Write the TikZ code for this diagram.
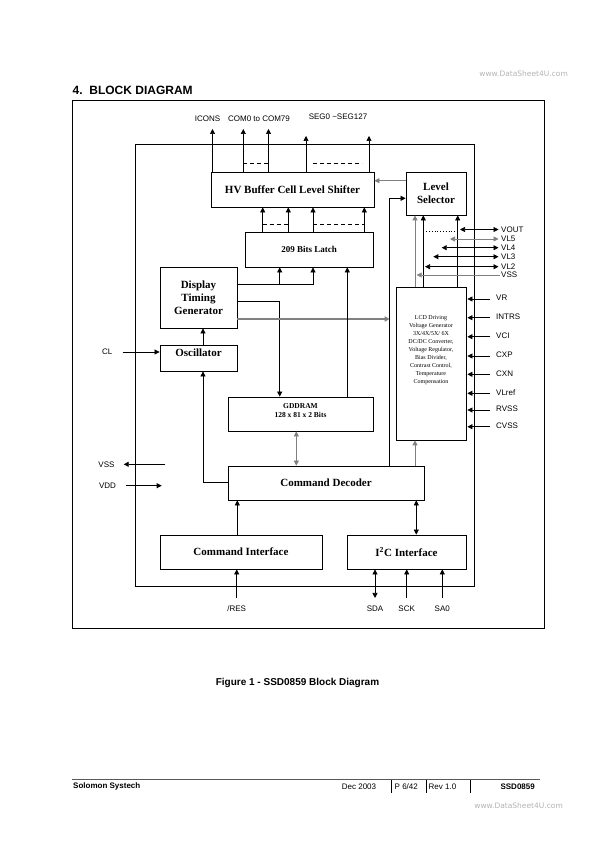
\documentclass[tikz,border=0pt]{standalone}
\usepackage{fontspec}
\setmainfont{Liberation Serif}
\setsansfont{Liberation Sans}
\newfontfamily\wmfont{DejaVu Sans}
\usetikzlibrary{arrows.meta,positioning}

\tikzset{
    blk/.style={draw, line width=0.8pt, inner sep=0pt, align=center,
        font=\fontsize{11}{13}\selectfont\bfseries},
    pin/.style={inner sep=1pt, font=\sffamily\fontsize{8}{9.5}\selectfont},
    foot/.style={inner sep=0pt, anchor=west, font=\sffamily\fontsize{8}{10}\selectfont},
    wm/.style={inner sep=0pt, anchor=east, text=gray!60, font=\wmfont\fontsize{7.5}{9}\selectfont},
    arr/.style={line width=0.7pt, -{Triangle[length=5pt,width=5pt]}},
    dblarr/.style={line width=0.7pt, {Triangle[length=5pt,width=5pt]}-{Triangle[length=5pt,width=5pt]}},
    wire/.style={line width=0.7pt}
}

\begin{document}
\begin{tikzpicture}[x=1pt,y=-1pt]
    \useasboundingbox (0,0) rectangle (595,842);

    % Titulo
    \node[anchor=west, inner sep=0pt, font=\sffamily\bfseries\fontsize{12}{14}\selectfont] (title) at (72.5,90) {4.\ \ BLOCK DIAGRAM};
    \node[wm] (wmtop) at (568,74) {www.DataSheet4U.com};

    % Molduras
    \draw[line width=0.6pt] (72.5,100.5) rectangle (544.5,628);
    \draw[line width=1pt] (135,145) rectangle (474,586);

    % Blocos
    \node[blk, minimum width=163pt, minimum height=35pt] (hv) at (292.5,189.5) {HV Buffer Cell Level Shifter};
    \node[blk, minimum width=60pt, minimum height=43pt] (lvl) at (436,193.5) {Level\\Selector};
    \node[blk, minimum width=128pt, minimum height=35pt, font=\fontsize{9}{11}\selectfont\bfseries] (latch) at (309,249.5) {209 Bits Latch};
    \node[blk, minimum width=77pt, minimum height=61pt] (dtg) at (198.5,297.5) {Display\\Timing\\Generator};
    \node[blk, minimum width=77pt, minimum height=26pt, text depth=10pt] (osc) at (198.5,358) {Oscillator};
    \node[blk, minimum width=145pt, minimum height=34pt] (gdd) at (300.5,414) {};
    \node[below=6.5pt of gdd.north, inner sep=0pt, align=center, font=\fontsize{7.5}{9}\selectfont\bfseries] (gddtext) {GDDRAM\\128 x 81 x 2 Bits};
    \node[blk, minimum width=70pt, minimum height=153pt] (lcd) at (431,363.5) {};
    \node[below=29pt of lcd.north, inner sep=0pt, align=center, font=\fontsize{6}{8}\selectfont] (lcdtext)
        {LCD Driving\\Voltage Generator\\3X/4X/5X/ 6X\\DC/DC Converter,\\Voltage Regulator,\\Bias Divider,\\Contrast Control,\\Temperature\\Compensation};
    \node[blk, minimum width=196pt, minimum height=34pt] (dec) at (326,483) {Command Decoder};
    \node[blk, minimum width=162pt, minimum height=34pt] (cif) at (241,552) {Command Interface};
    \node[blk, minimum width=119pt, minimum height=34pt] (i2c) at (406.5,552) {I\textsuperscript{2}C Interface};

    % Saidas do HV buffer
    \node[pin] (icons) at (207.5,119) {ICONS};
    \node[pin] (com) at (259,119) {COM0 to COM79};
    \node[pin] (seg) at (338,117) {SEG0 \textasciitilde SEG127};
    \foreach \x/\y in {212.5/129,243.3/129,268.5/129,306/136,369/136}
        \draw[arr] (hv.north -| \x,0) -- (\x,\y);
    \draw[wire, dash pattern=on 4pt off 3pt] (243.3,163) -- (268.5,163);
    \draw[wire, dash pattern=on 4pt off 3pt] (313,163) -- (362,163);

    % Latch -> HV buffer
    \foreach \x in {262.7,288.3,313,364.3}
        \draw[arr] (latch.north -| \x,0) -- (hv.south -| \x,0);
    \draw[wire, dash pattern=on 4pt off 3pt] (262.7,224.3) -- (288.3,224.3);
    \draw[wire, dash pattern=on 4pt off 3pt] (313,224.3) -- (364.3,224.3);

    % Display timing generator
    \draw[arr] (dtg.east |- 0,284.3) -| (latch.south -| 313,0);
    \draw[arr] (279.7,284.3) -- (latch.south -| 279.7,0);
    \draw[arr] (dtg.east |- 0,301.7) -| (gdd.north -| 279.7,0);
    \draw[arr, gray, line width=1.3pt] (dtg.east |- 0,319) -- (389.7,319);
    \draw[arr] (gdd.north -| 347.3,0) -- (latch.south -| 347.3,0);
    \draw[arr] (osc.north -| 203,0) -- (dtg.south -| 203,0);

    % Oscilador
    \node[pin] (cl) at (107.3,352) {CL};
    \draw[arr] ([xshift=9pt]cl.east) -- (osc.west |- cl.east);
    \draw[arr] (dec.west |- 0,482.7) -| (osc.south -| 203,0);

    % Command decoder
    \draw[dblarr, gray] (gdd.south -| 296.3,0) -- (dec.north -| 296.3,0);
    \draw[arr, gray, line width=1pt] (dec.north -| 415,0) -- (lcd.south -| 415,0);
    \draw[arr] (dec.north -| 389.7,0) |- (lvl.west |- 0,198.3);
    \draw[arr] (cif.north -| 237.3,0) -- (dec.south -| 237.3,0);
    \draw[dblarr] (i2c.north -| 416.3,0) -- (dec.south -| 416.3,0);

    % Level selector
    \draw[arr, gray] (lvl.west |- 0,180.7) -- (hv.east |- 0,180.7);
    \draw[arr, gray, line width=1pt] (lcd.north -| 415,0) -- (lvl.south -| 415,0);
    \foreach \x in {423.3,457.7}
        \draw[arr] (lcd.north -| \x,0) -- (lvl.south -| \x,0);
    \draw[dotted, line width=0.8pt] (423.3,231.5) -- (458.3,231.5);

    % Pinos VOUT ... VSS
    \foreach \n/\y/\x/\c in {VOUT/229.5/460/black,VL5/239/450/gray,VL4/247.7/441.7/black,VL3/256.7/433.3/black,VL2/266.7/425/black}{
        \node[pin, anchor=west] (p\n) at (500,\y) {\n};
        \draw[dblarr, \c, shorten >=1.5pt] (\x,\y) -- (p\n.west);
    }
    \node[pin, anchor=west] (pVSSr) at (500,275) {VSS};
    \draw[arr, gray] (pVSSr.west) -- (416.7,275);

    % Pinos do gerador LCD
    \foreach \n/\y in {VR/299,INTRS/317.7,VCI/336.7,CXP/356,CXN/374.3,VLref/393.3,RVSS/410,CVSS/426.7}{
        \node[pin, anchor=west] (p\n) at (495,\y-1) {\n};
        \draw[arr, shorten >=1pt] ([xshift=-5pt]p\n.west |- 0,\y) -- (lcd.east |- 0,\y);
    }

    % Alimentacao
    \node[pin] (vssl) at (106.5,464.3) {VSS};
    \draw[arr] (165,464.3) -- ([xshift=8pt]vssl.east);
    \node[pin] (vddl) at (107.5,485.7) {VDD};
    \draw[arr] ([xshift=8.5pt]vddl.east) -- (161.7,485.7);

    % Pinos de baixo
    \node[pin] (res) at (236.7,609) {/RES};
    \draw[arr] ([yshift=7pt]res.north) -- (cif.south -| res.north);
    \node[pin] (sda) at (375,609) {SDA};
    \draw[dblarr] ([yshift=7pt]sda.north) -- (i2c.south -| sda.north);
    \node[pin] (sck) at (406.7,609) {SCK};
    \draw[arr] ([yshift=7pt]sck.north) -- (i2c.south -| sck.north);
    \node[pin] (sa0) at (442.3,609) {SA0};
    \draw[arr] ([yshift=7pt]sa0.north) -- (i2c.south -| sa0.north);

    % Legenda e rodape
    \node[font=\sffamily\bfseries\fontsize{10}{12}\selectfont] (cap) at (297.5,683) {Figure 1 - SSD0859 Block Diagram};
    \draw[line width=0.8pt, gray!70!black] (71.7,779.3) -- (540,779.3);
    \foreach \x in {391.7,426.7,470}
        \draw[line width=0.6pt] (\x,780) -- (\x,793);
    \node[foot, font=\sffamily\bfseries\fontsize{8}{10}\selectfont] (co) at (73,786.7) {Solomon Systech};
    \node[foot] (date) at (341.7,786.7) {Dec 2003};
    \node[foot] (pg) at (394.5,786.7) {P 6/42};
    \node[foot] (rev) at (428.5,786.7) {Rev 1.0};
    \node[foot, anchor=east, font=\sffamily\bfseries\fontsize{8}{10}\selectfont] (part) at (535,786.7) {SSD0859};
    \node[wm] (wmbot) at (563,805.7) {www.DataSheet4U.com};
\end{tikzpicture}
\end{document}
